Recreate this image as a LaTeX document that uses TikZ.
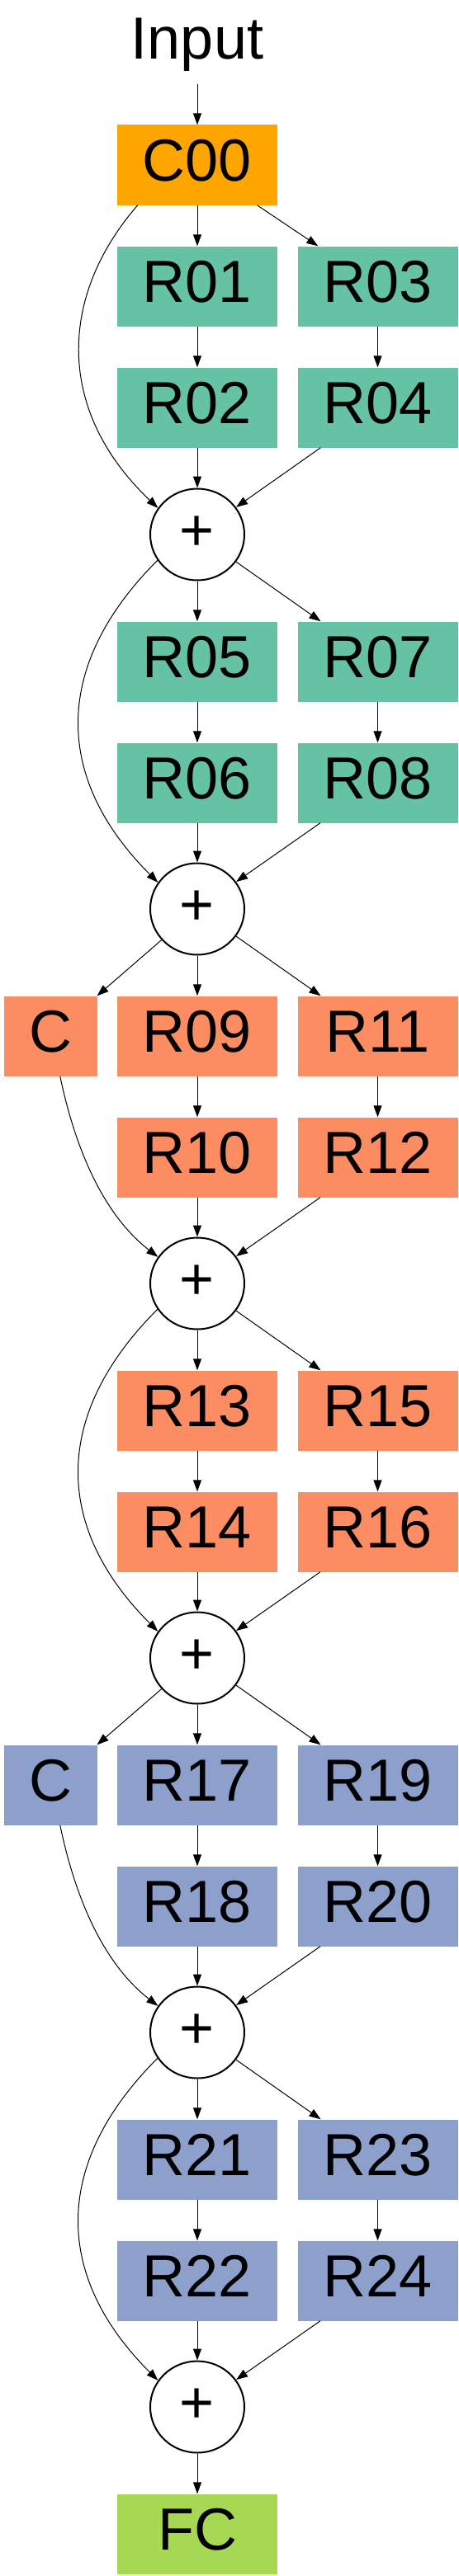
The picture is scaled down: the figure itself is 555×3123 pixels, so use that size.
\documentclass[tikz,border=0pt]{standalone}
\usepackage{fontspec}
\setmainfont{Liberation Sans}
\usetikzlibrary{arrows.meta,shapes.geometric}
\definecolor{cOrange}{HTML}{FFA500}
\definecolor{cGreen}{HTML}{66C2A5}
\definecolor{cSalmon}{HTML}{FC8D62}
\definecolor{cBlue}{HTML}{8DA0CB}
\definecolor{cLime}{HTML}{A6D854}
\begin{document}
\begin{tikzpicture}[x=1pt,y=-1pt,
  lbl/.style={inner sep=0pt, text height=52pt, text depth=14pt, font=\fontsize{72}{86}\selectfont},
  box/.style={lbl, rectangle, minimum width=194pt, minimum height=97pt},
  cbox/.style={box, minimum width=113pt},
  txtnode/.style={lbl, rectangle, minimum width=194pt, minimum height=97pt},
  plus/.style={lbl, ellipse, draw=black, line width=2pt, fill=white, minimum width=114pt, minimum height=111pt},
  gbox/.style={box, fill=cGreen},
  sbox/.style={box, fill=cSalmon},
  bbox/.style={box, fill=cBlue},
  arr/.style={-{Triangle[length=14pt,width=10pt]}, line width=1pt, black}
]
\useasboundingbox (0,0) rectangle (555,3123);
% top
\node[txtnode] (inp) at (239,53) {Input};
\node[box, fill=cOrange] (c00) at (239,200) {C00};
% stage 1
\node[gbox] (r01) at (239,347) {R01};
\node[gbox] (r03) at (457.5,347) {R03};
\node[gbox] (r02) at (239,494) {R02};
\node[gbox] (r04) at (457.5,494) {R04};
\node[plus] (p1) at (239,648) {+};
% stage 2
\node[gbox] (r05) at (239,802) {R05};
\node[gbox] (r07) at (457.5,802) {R07};
\node[gbox] (r06) at (239,949) {R06};
\node[gbox] (r08) at (457.5,949) {R08};
\node[plus] (p2) at (239,1102) {+};
% stage 3
\node[sbox, cbox] (ca) at (61.5,1256) {C};
\node[sbox] (r09) at (239,1256) {R09};
\node[sbox] (r11) at (457.5,1256) {R11};
\node[sbox] (r10) at (239,1403) {R10};
\node[sbox] (r12) at (457.5,1403) {R12};
\node[plus] (p3) at (239,1556) {+};
% stage 4
\node[sbox] (r13) at (239,1710) {R13};
\node[sbox] (r15) at (457.5,1710) {R15};
\node[sbox] (r14) at (239,1857) {R14};
\node[sbox] (r16) at (457.5,1857) {R16};
\node[plus] (p4) at (239,2010) {+};
% stage 5
\node[bbox, cbox] (cb) at (61.5,2164) {C};
\node[bbox] (r17) at (239,2164) {R17};
\node[bbox] (r19) at (457.5,2164) {R19};
\node[bbox] (r18) at (239,2311) {R18};
\node[bbox] (r20) at (457.5,2311) {R20};
\node[plus] (p5) at (239,2464) {+};
% stage 6
\node[bbox] (r21) at (239,2618) {R21};
\node[bbox] (r23) at (457.5,2618) {R23};
\node[bbox] (r22) at (239,2765) {R22};
\node[bbox] (r24) at (457.5,2765) {R24};
\node[plus] (p6) at (239,2918) {+};
\node[box, fill=cLime] (fc) at (239,3072) {FC};
% straight connectors
\foreach \a/\b in {inp/c00, c00/r01, c00/r03, r01/r02, r03/r04, r02/p1, r04/p1,
  p1/r05, p1/r07, r05/r06, r07/r08, r06/p2, r08/p2,
  p2/ca, p2/r09, p2/r11, r09/r10, r11/r12, r10/p3, r12/p3,
  p3/r13, p3/r15, r13/r14, r15/r16, r14/p4, r16/p4,
  p4/cb, p4/r17, p4/r19, r17/r18, r19/r20, r18/p5, r20/p5,
  p5/r21, p5/r23, r21/r22, r23/r24, r22/p6, r24/p6, p6/fc}
  \draw[arr] (\a) -- (\b);
% curved skip connectors
\draw[arr] (c00.214) .. controls +(-97,112) and +(-123,-117) .. (p1.146);
\draw[arr] (p1.213) .. controls +(-127,127) and +(-127,-127) .. (p2.146);
\draw[arr] (ca.283) .. controls +(22,105) and +(-58,-45) .. (p3.146);
\draw[arr] (p3.213) .. controls +(-127,127) and +(-127,-127) .. (p4.146);
\draw[arr] (cb.283) .. controls +(22,105) and +(-58,-45) .. (p5.146);
\draw[arr] (p5.213) .. controls +(-127,127) and +(-127,-127) .. (p6.146);
\end{tikzpicture}
\end{document}
